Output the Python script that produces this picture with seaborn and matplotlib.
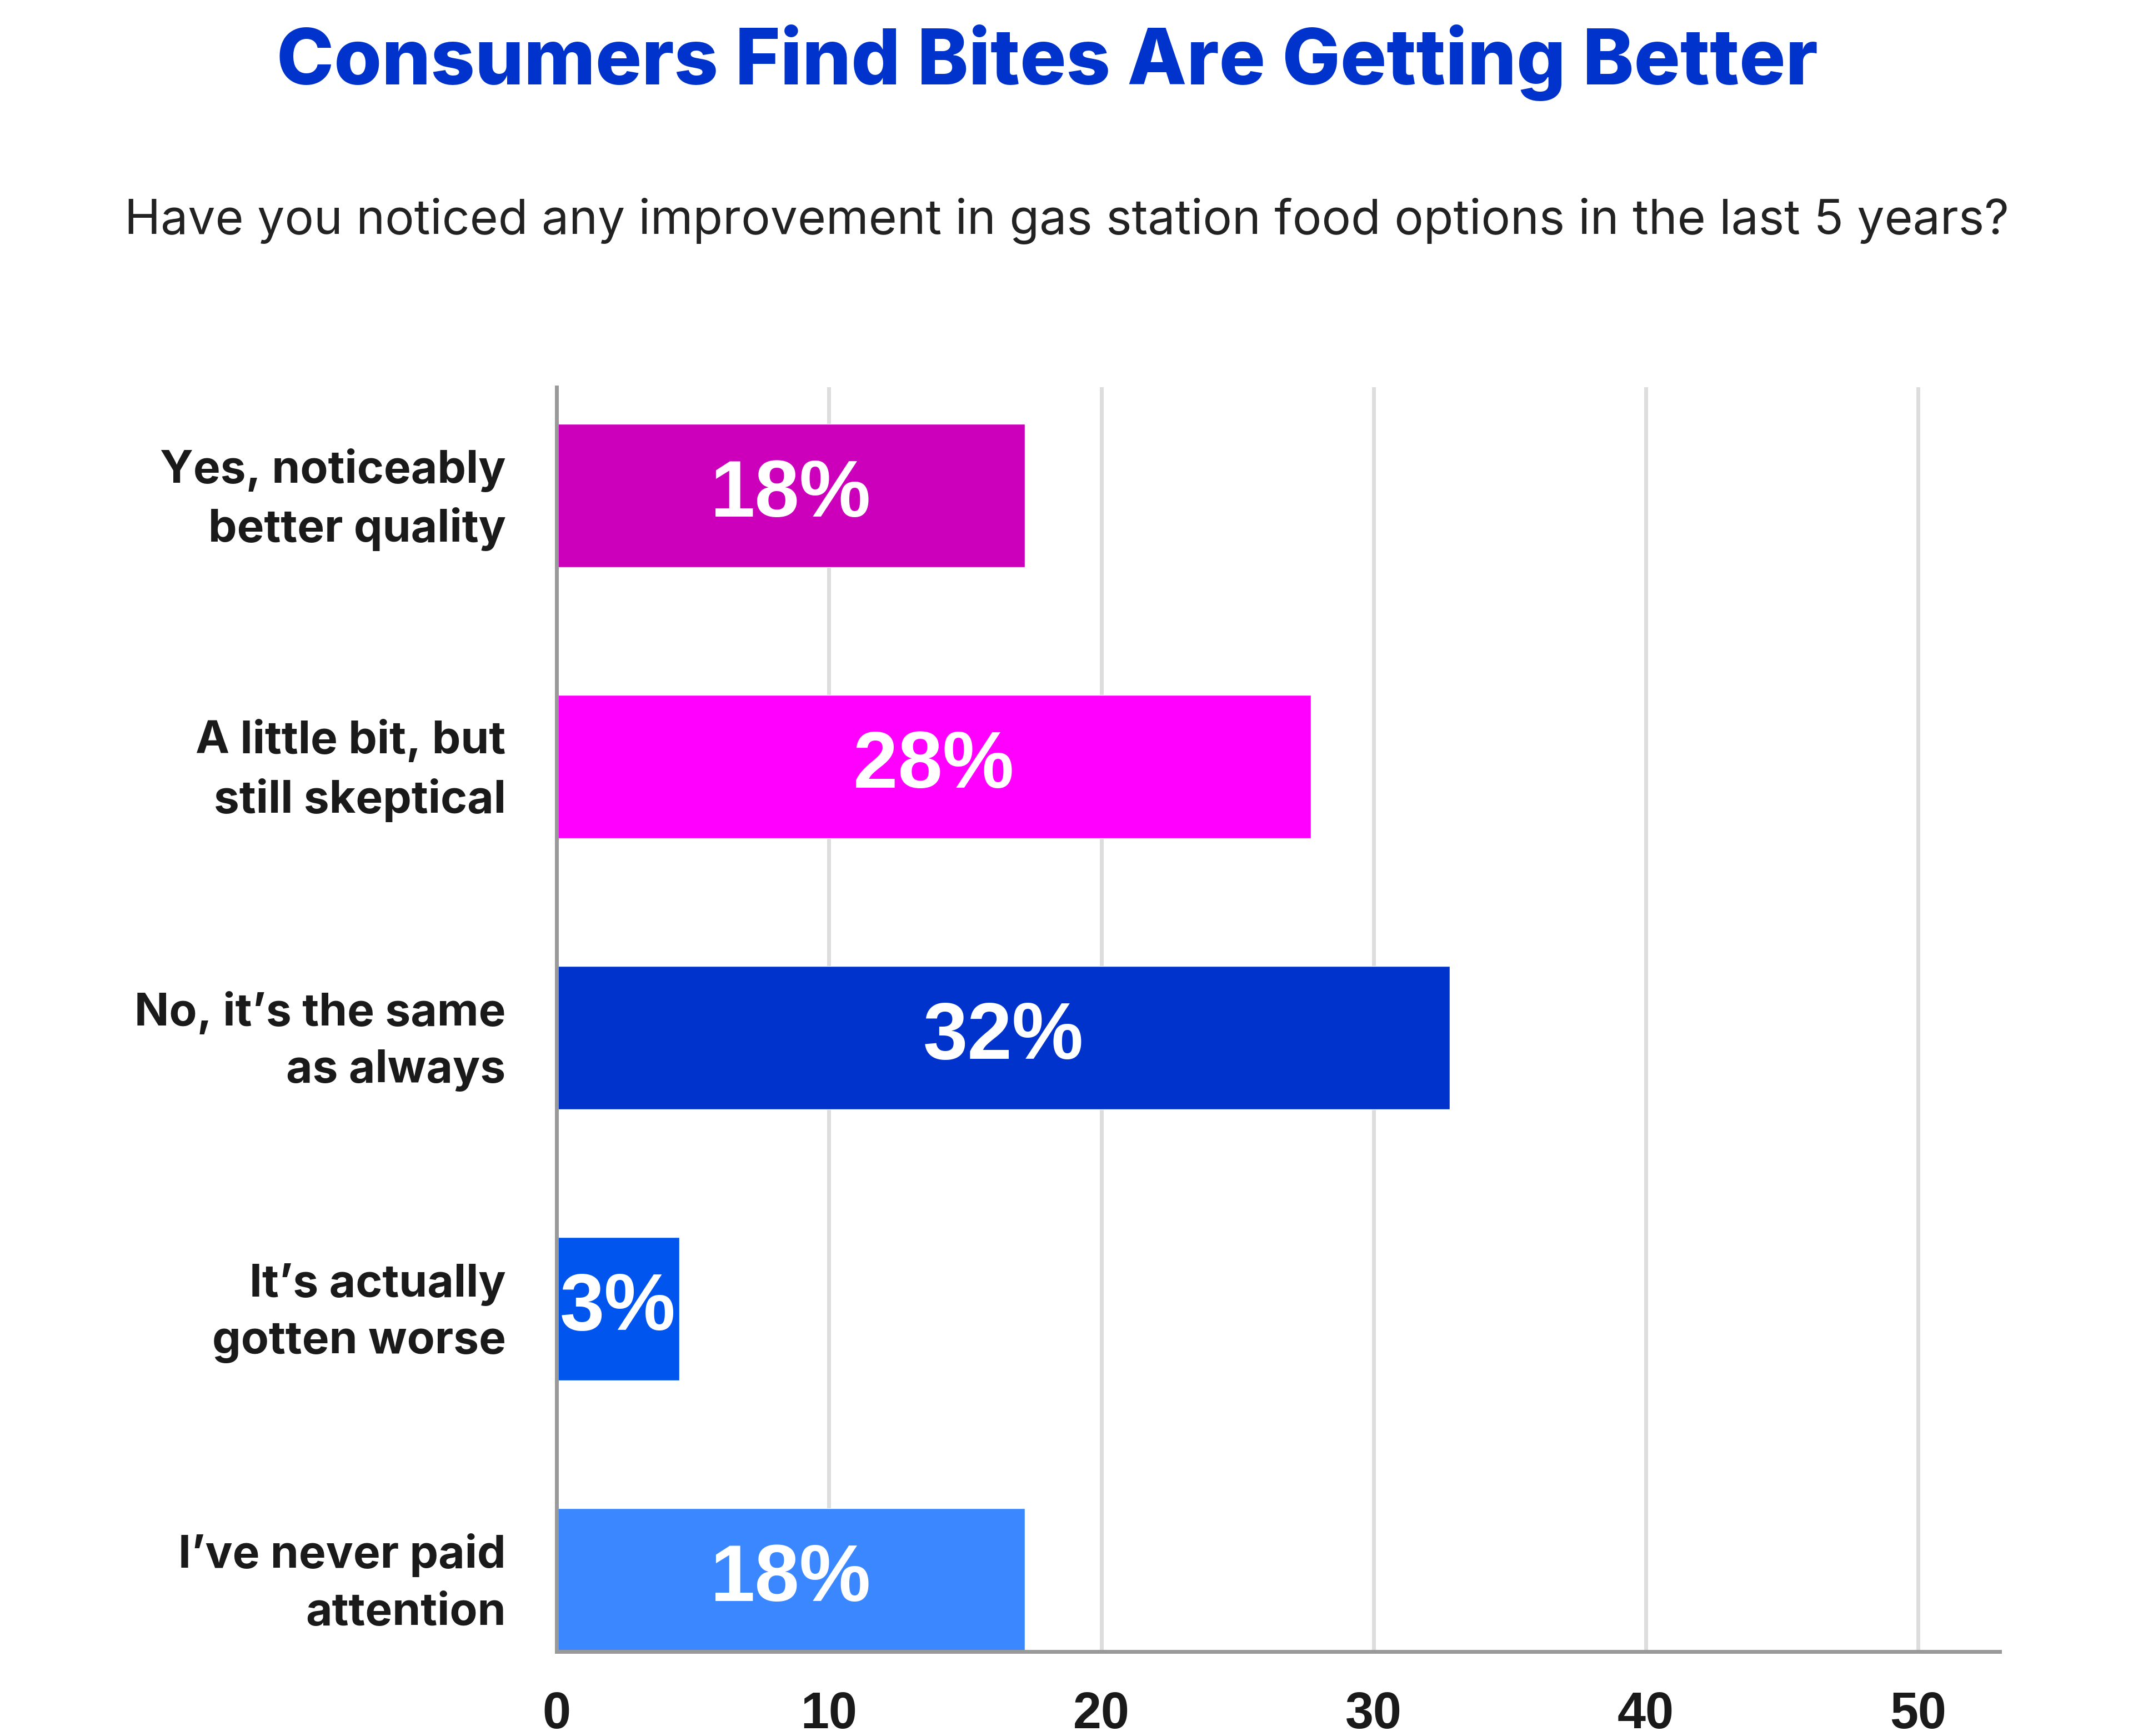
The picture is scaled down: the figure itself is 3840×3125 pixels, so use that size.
import matplotlib
matplotlib.use("Agg")
import matplotlib.pyplot as plt
import matplotlib.transforms as mtransforms
import seaborn as sns

# Survey answers and bar lengths as drawn in the source chart
answers = [
    "Yes, noticeably\nbetter quality",
    "A little bit, but\nstill skeptical",
    "No, it\u2019s the same\nas always",
    "It\u2019s actually\ngotten worse",
    "I\u2019ve never paid\nattention",
]
bar_values = [17.2, 27.7, 32.8, 4.5, 17.2]
value_labels = ["18%", "28%", "32%", "3%", "18%"]
bar_colors = ["#CC00BB", "#FF00FF", "#0033CC", "#0055EE", "#3A87FF"]
x_ticks = [0, 10, 20, 30, 40, 50]

sns.set_theme(style="white")
plt.rcParams["font.family"] = ["Inter", "DejaVu Sans"]

fig = plt.figure(figsize=(38.4, 31.25), dpi=100)
ax = fig.add_axes([0.261, 0.0485, 0.9375 - 0.261, 0.777 - 0.0485])

sns.barplot(x=bar_values, y=answers, hue=answers, palette=bar_colors,
            orient="h", width=0.53, legend=False, saturation=1, ax=ax)

ax.set_xlim(0, 53)
ax.set_ylim(4.265, -0.4)
ax.set_xticks(x_ticks)
ax.set_xticklabels([str(t) for t in x_ticks], fontsize=66, fontweight="bold",
                   color="#1a1a1a", family=["Liberation Sans", "DejaVu Sans"])
ax.set_yticks(range(len(answers)))
ax.set_yticklabels(answers, fontsize=59, fontweight="bold", color="#1a1a1a",
                   linespacing=1.45)
ax.tick_params(axis="x", length=0, pad=51)
ax.tick_params(axis="y", length=0, pad=66)
ax.set_xlabel("")
ax.set_ylabel("")

# nudge the two-line category labels up so they sit centred on the bars
shift = mtransforms.ScaledTranslation(0, 0.15, fig.dpi_scale_trans)
for lbl in ax.get_yticklabels():
    lbl.set_transform(lbl.get_transform() + shift)

# grid
ax.grid(axis="x", color="#DDDDDD", linewidth=5)
ax.set_axisbelow(True)
for side in ["top", "right"]:
    ax.spines[side].set_visible(False)
for side in ["left", "bottom"]:
    ax.spines[side].set_color("#999999")
    ax.spines[side].set_linewidth(5)

# value labels in the bars
for i, (v, lab) in enumerate(zip(bar_values, value_labels)):
    ax.text(v / 2, i, lab, ha="center", va="center", color="white",
            fontsize=104, fontweight="bold",
            family=["Liberation Sans", "DejaVu Sans"])

fig.text(0.491, 0.964, "Consumers Find Bites Are Getting Better",
         ha="center", va="center", fontsize=100, fontweight="heavy",
         color="#0033CC")
fig.text(0.5, 0.8725,
         "Have you noticed any improvement in gas station food options in the last 5 years?",
         ha="center", va="center", fontsize=63, color="#222222")

fig.savefig("out.png", dpi=100, facecolor="white")
